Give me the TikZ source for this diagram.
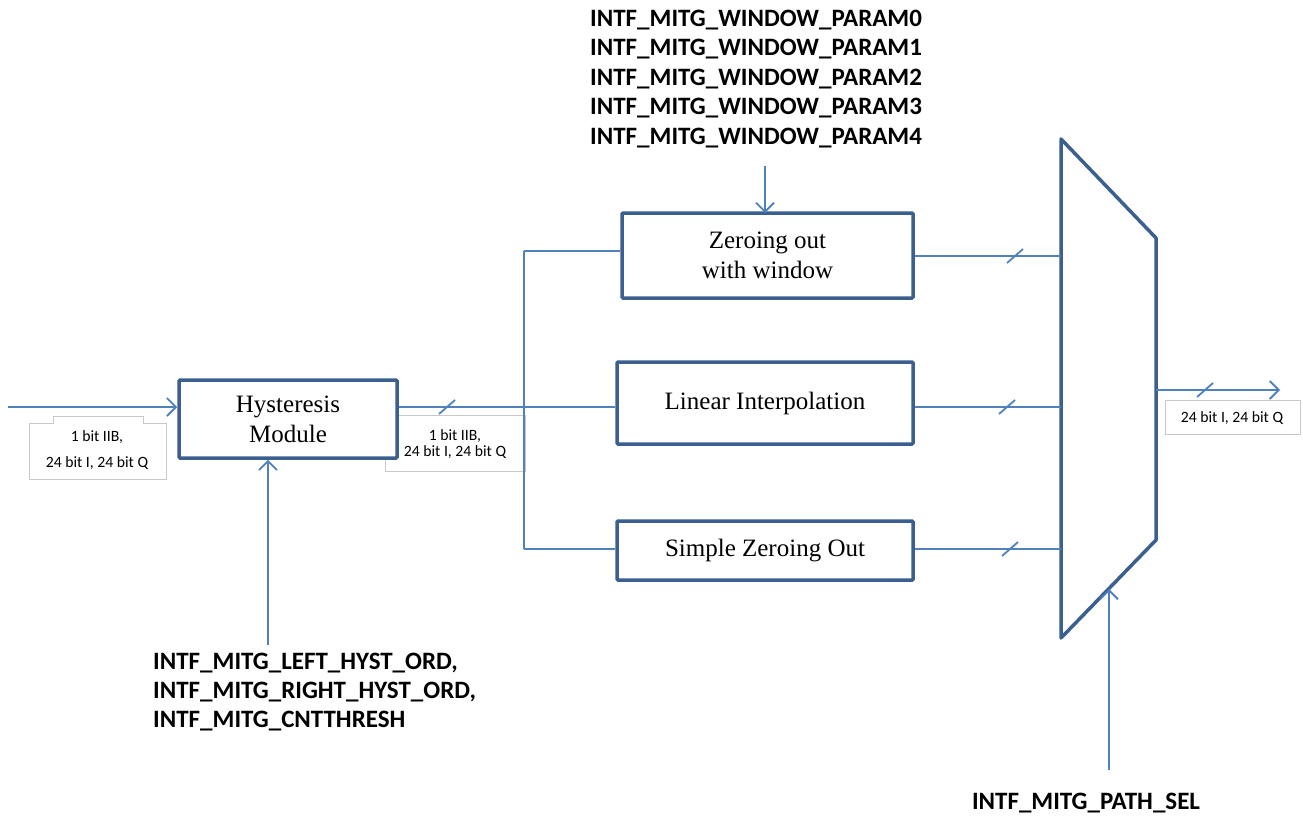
\documentclass[tikz,border=0pt]{standalone}
\usepackage{fontspec}
\setmainfont{Liberation Serif}
\newfontfamily\calfont{Carlito}
\usetikzlibrary{arrows.meta,calc}
\definecolor{boxblue}{HTML}{3B5F8E}
\definecolor{lineblue}{HTML}{4F81BD}
\definecolor{lblgray}{HTML}{C8C8C8}
\begin{document}
\begin{tikzpicture}[x=1pt,y=-1pt,
  blk/.style={draw=boxblue, line width=3.5pt, fill=white, rounded corners=1pt, align=center,
    font=\fontsize{25}{30}\selectfont, inner sep=0pt},
  conn/.style={draw=lineblue, line width=1.8pt},
  arr/.style={conn, -{Straight Barb[length=9pt,width=18pt,line width=1.8pt]}},
  param/.style={font=\calfont\bfseries\fontsize{25}{30}\selectfont, inner sep=0pt, anchor=base west},
  small/.style={font=\calfont\fontsize{15.7}{17}\selectfont, inner sep=0pt},
  lbl/.style={draw=lblgray, line width=0.8pt, fill=white}]
\useasboundingbox (0,0) rectangle (1303,820);

% label boxes
\draw[lbl] (29,423) -- (53,423) -- (53,416) -- (143,416) -- (143,423) -- (166,423) -- (166,479) -- (29,479) -- cycle;
\draw[lbl] (385,415) rectangle (525,471);
\draw[lbl] (1165,400) rectangle (1300,434);
\node[small] (l1a) at (97,437) {1 bit IIB,};
\node[small] (l1b) at (97,463) {24 bit I, 24 bit Q};
\node[small] (l2a) at (455,436) {1 bit IIB,};
\node[small] (l2b) at (455,452) {24 bit I, 24 bit Q};
\node[small] (l3) at (1232,418) {24 bit I, 24 bit Q};

% blocks
\node[blk, minimum width=218pt, minimum height=78pt] (hy) at (288,419) {Hysteresis\\Module};
\node[blk, minimum width=291pt, minimum height=85pt] (zw) at (767.5,255.5) {Zeroing out\\with window};
\node[blk, minimum width=296pt, minimum height=82pt] (li) at (765,403) {Linear Interpolation};
\node[blk, minimum width=296pt, minimum height=59pt] (sz) at (765,550.5) {Simple Zeroing Out};

% mux
\coordinate (m1) at (1061,139);
\coordinate (m2) at (1156,238);
\coordinate (m3) at (1156,540);
\coordinate (m4) at (1061,638);
\draw[draw=boxblue, line width=3.5pt, line join=round] (m1) -- (m2) -- (m3) -- (m4) -- cycle;

% input
\coordinate (in) at (8,407);
\draw[arr] (in) -- (hy.west |- in);

% hysteresis to bus
\coordinate (bt) at (524,251);
\coordinate (bm) at (524,407);
\coordinate (bb) at (524,549);
\draw[conn] (hy.east |- bm) -- (li.west |- bm);
\draw[conn] (bt) -- (bb);
\draw[conn] (bt) -- (zw.west |- bt);
\draw[conn] (bb) -- (sz.west |- bb);

% outputs to mux
\coordinate (o1) at (1061,256);
\coordinate (o2) at (1061,407);
\coordinate (o3) at (1061,549);
\draw[conn] (zw.east |- o1) -- (o1);
\draw[conn] (li.east |- o2) -- (o2);
\draw[conn] (sz.east |- o3) -- (o3);

% mux output
\coordinate (mo) at (1156,390);
\coordinate (out) at (1280,390);
\draw[arr] (mo) -- (out);

% slashes
\foreach \px/\py in {447/407,1015/256,1007/407,1010/549,1205/390}
  \draw[conn] (\px-8,\py+7) -- (\px+8,\py-7);

% parameter texts
\node[param] (wp0) at (590,26) {INTF\_MITG\_WINDOW\_PARAM0};
\node[param] (wp1) at (590,55.5) {INTF\_MITG\_WINDOW\_PARAM1};
\node[param] (wp2) at (590,85) {INTF\_MITG\_WINDOW\_PARAM2};
\node[param] (wp3) at (590,114.5) {INTF\_MITG\_WINDOW\_PARAM3};
\node[param] (wp4) at (590,144) {INTF\_MITG\_WINDOW\_PARAM4};
\coordinate (wps) at (765,166);
\coordinate (wpe) at (765,213);
\draw[arr] (wps) -- (wpe);

\node[param] (hp1) at (153,669) {INTF\_MITG\_LEFT\_HYST\_ORD,};
\node[param] (hp2) at (153,698) {INTF\_MITG\_RIGHT\_HYST\_ORD,};
\node[param] (hp3) at (153,727) {INTF\_MITG\_CNTTHRESH};
\coordinate (hps) at (268,645);
\draw[arr] (hps) -- (hps |- hy.south);

\node[param, anchor=base] (ps) at (1086,809) {INTF\_MITG\_PATH\_SEL};
\coordinate (pss) at (1109,770);
\coordinate (pse) at (1109,589);
\draw[arr] (pss) -- (pse);
\end{tikzpicture}
\end{document}
